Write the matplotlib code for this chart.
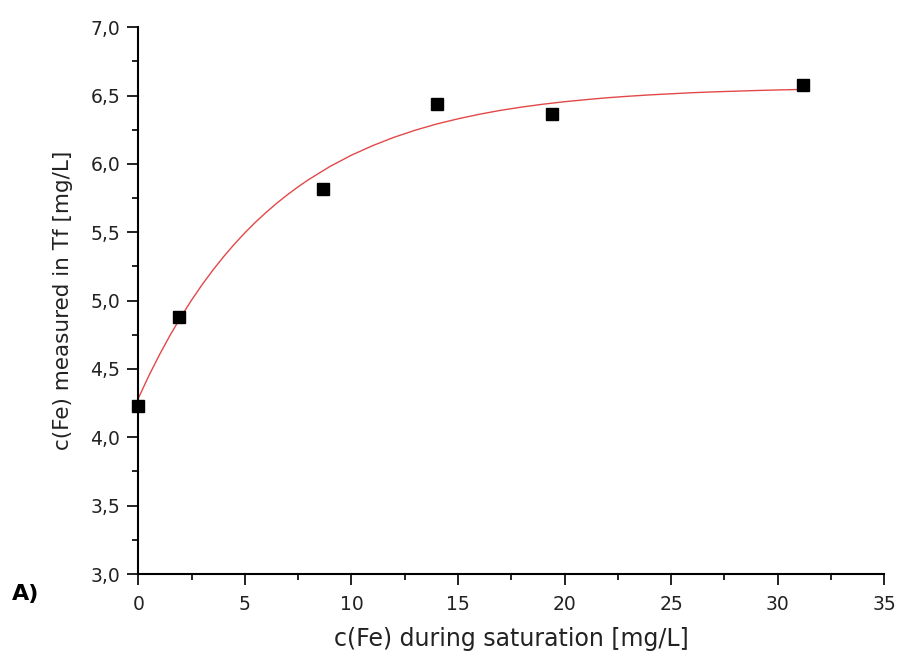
import numpy as np
import matplotlib.pyplot as plt
from matplotlib.ticker import MultipleLocator, FuncFormatter

plt.rcParams['font.family'] = ['DejaVu Sans']

# measured points
x_meas = [0.0, 1.9, 8.65, 14.03, 19.39, 31.2]
y_meas = [4.23, 4.88, 5.815, 6.44, 6.366, 6.578]

# fit curve
x_fit = [0, 0.5, 1, 1.5, 2, 2.5, 3, 3.5, 4, 4.5, 5, 5.5, 6, 6.5, 7, 7.5, 8, 9,
         10, 11, 12, 13, 14, 15, 16, 17, 18, 19, 20, 21, 22, 23, 24, 25, 26, 27,
         28, 29, 30, 31.2]
y_fit = [4.285, 4.452, 4.606, 4.749, 4.881, 5.004, 5.118, 5.223, 5.321, 5.412,
         5.496, 5.574, 5.646, 5.713, 5.775, 5.833, 5.886, 5.982,
         6.064, 6.134, 6.195, 6.247, 6.292, 6.330, 6.363, 6.392, 6.416, 6.437,
         6.455, 6.470, 6.484, 6.495, 6.505, 6.513, 6.521, 6.527, 6.532, 6.537,
         6.541, 6.545]

fig = plt.figure(figsize=(9.01, 6.62), dpi=100)
ax = fig.add_axes([0.1535, 0.1329, 0.828, 0.826])

ax.plot(x_fit, y_fit, color='#e34848', lw=1.0, zorder=2)
ax.plot(x_meas, y_meas, ls='none', marker='s', ms=8, color='black', clip_on=False, zorder=3)

ax.set_xlim(0, 35)
ax.set_ylim(3.0, 7.0)
ax.xaxis.set_major_locator(MultipleLocator(5))
ax.xaxis.set_minor_locator(MultipleLocator(2.5))
ax.yaxis.set_major_locator(MultipleLocator(0.5))
ax.yaxis.set_minor_locator(MultipleLocator(0.25))
ax.yaxis.set_major_formatter(FuncFormatter(lambda v, p: ('%.1f' % v).replace('.', ',')))
ax.xaxis.set_major_formatter(FuncFormatter(lambda v, p: '%d' % v))

for s in ['top', 'right']:
    ax.spines[s].set_visible(False)
for s in ['left', 'bottom']:
    ax.spines[s].set_linewidth(1.5)

ax.tick_params(which='major', direction='out', length=8, width=1.4, labelsize=13.5, colors='#222222')
ax.tick_params(which='minor', direction='out', length=4.5, width=1.4, colors='#222222')
ax.tick_params(axis='x', which='major', pad=7)
ax.tick_params(axis='y', which='major', pad=5)

ax.set_xlabel('c(Fe) during saturation [mg/L]', fontsize=17, color='#222222')
ax.set_ylabel('c(Fe) measured in Tf [mg/L]', fontsize=15.5, color='#222222')
ax.xaxis.set_label_coords(0.5, -0.097)
ax.yaxis.set_label_coords(-0.0875, 0.5)

fig.text(0.013, 0.094, 'A)', fontsize=16, fontweight='bold')

fig.savefig('out.png', dpi=100)
